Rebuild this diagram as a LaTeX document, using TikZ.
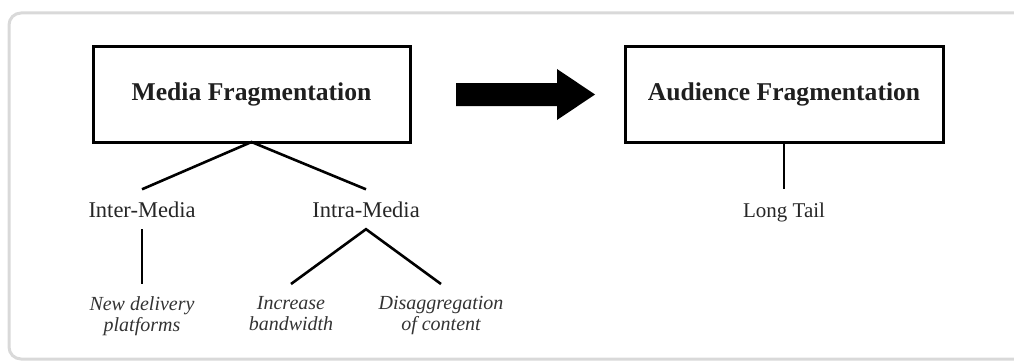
\documentclass[tikz,border=0pt]{standalone}
\usepackage{fontspec}
\setmainfont{Liberation Serif}
\begin{document}
\begin{tikzpicture}[x=1pt,y=-1pt,
  bigbox/.style={draw=black,line width=3pt,inner sep=0pt,outer sep=0pt,
    minimum height=95pt,font=\fontsize{25.6}{28}\selectfont\bfseries,text=black!88},
  midlabel/.style={inner xsep=0pt,inner ysep=12pt,text height=15.5pt,text depth=0pt,
    font=\fontsize{22.5}{25}\selectfont,text=black!85},
  leaflabel/.style={inner xsep=0pt,inner ysep=12pt,align=center,anchor=north,
    font=\fontsize{20}{21.5}\selectfont\itshape,text=black!80},
  link/.style={draw=black,line width=2.6pt}]
\useasboundingbox (0,0) rectangle (1014,361);
\clip (0,0) rectangle (1014,361);
% frame
\draw[draw=black!15,line width=3pt,rounded corners=12pt] (9,13) rectangle (1100,359);
% main boxes
\node[bigbox,minimum width=317pt] (mf) at (251.5,94.5) {Media Fragmentation};
\node[bigbox,minimum width=318pt] (af) at (784,94.5) {Audience Fragmentation};
% block arrow
\fill[black] (456,83) -- (557,83) -- (557,69) -- (595,94.5) -- (557,120) -- (557,106) -- (456,106) -- cycle;
% second level
\node[midlabel,anchor=base] (inter) at (142,217) {Inter-Media};
\node[midlabel,anchor=base] (intra) at (366,217) {Intra-Media};
\node[inner xsep=0pt,inner ysep=14pt,text height=14pt,text depth=0pt,anchor=base,
  font=\fontsize{21}{24}\selectfont,text=black!85] (lt) at (784,217) {Long Tail};
% leaves
\node[leaflabel] (ndp) at (142,284) {New delivery\\platforms};
\node[leaflabel] (ib) at (291,284) {Increase\\bandwidth};
\node[leaflabel] (doc) at (441,284) {Disaggregation\\of content};
% connectors
\draw[link] (inter.north) -- (mf.south) -- (intra.north);
\draw[link] (inter.south) -- (ndp.north);
\draw[link] (ib.north) -- (intra.south) -- (doc.north);
\draw[link] (af.south) -- (lt.north);
\end{tikzpicture}
\end{document}
